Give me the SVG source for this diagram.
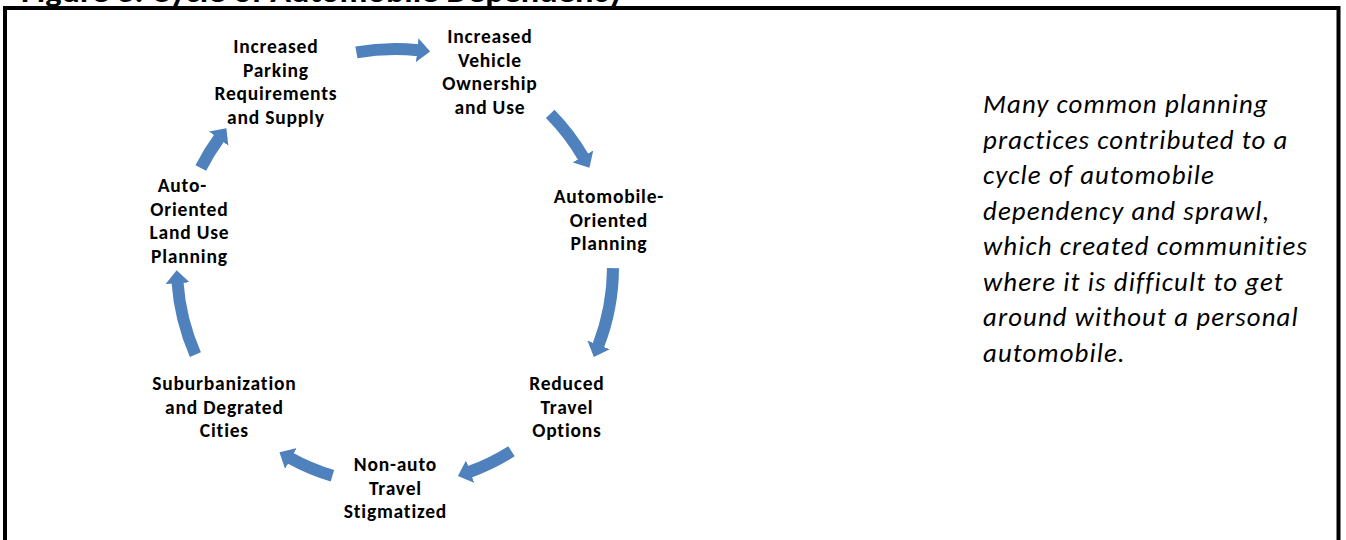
<svg xmlns="http://www.w3.org/2000/svg" width="1346" height="540" viewBox="0 0 1346 540">
  <defs>
    <style>
      .title{font-family:Carlito,Lato,"Liberation Sans",sans-serif;font-weight:bold;font-size:32px;fill:#000}
      .lbl{font-family:Carlito,Lato,"Liberation Sans",sans-serif;font-weight:bold;font-size:19.5px;letter-spacing:0.8px;fill:#000;text-anchor:middle}
      .note{font-family:Carlito,Lato,"Liberation Sans",sans-serif;font-style:italic;font-size:26.8px;letter-spacing:1.1px;fill:#000}
      .arc{fill:none;stroke:#4F81BD;stroke-width:12;marker-end:url(#head)}
    </style>
    <marker id="head" markerUnits="userSpaceOnUse" viewBox="0 -12 13 24" refX="1" refY="0" markerWidth="13" markerHeight="24" orient="auto">
      <path d="M0,-12 L13,0 L0,12 Z" fill="#4F81BD"/>
    </marker>
  </defs>
  <rect width="1346" height="540" fill="#fff"/>

  <!-- caption line above the frame -->
  <text class="title" x="21" y="1.5" textLength="603" lengthAdjust="spacingAndGlyphs">Figure 3: Cycle of Automobile Dependency</text>

  <!-- frame -->
  <rect x="5" y="8" width="1333.5" height="600" fill="none" stroke="#000" stroke-width="4"/>

  <!-- cycle arrows, arcs on a circle centred at (395,267), r=218 -->
  <g id="connectors">
    <path class="arc" d="M356.4,52.4 A218,218 0 0 1 418.2,50.2"/>
    <path class="arc" d="M550.2,113.9 A218,218 0 0 1 583.4,157.3"/>
    <path class="arc" d="M613,268.1 A218,218 0 0 1 598.2,345.8"/>
    <path class="arc" d="M511.5,451.3 A218,218 0 0 1 469.2,472"/>
    <path class="arc" d="M332.4,475.8 A218,218 0 0 1 290,458"/>
    <path class="arc" d="M195.4,354.6 A218,218 0 0 1 177.5,282.2"/>
    <path class="arc" d="M200.8,168 A218,218 0 0 1 219.3,137.9"/>
  </g>

  <g id="node-parking">
    <text class="lbl" x="275.9" y="53">Increased</text>
    <text class="lbl" x="275.9" y="76.5">Parking</text>
    <text class="lbl" x="275.9" y="100">Requirements</text>
    <text class="lbl" x="275.9" y="123.5">and Supply</text>
  </g>
  <g id="node-ownership">
    <text class="lbl" x="489.9" y="43.3">Increased</text>
    <text class="lbl" x="489.9" y="66.8">Vehicle</text>
    <text class="lbl" x="489.9" y="90.2">Ownership</text>
    <text class="lbl" x="489.9" y="113.7">and Use</text>
  </g>
  <g id="node-auto-planning">
    <text class="lbl" x="608.9" y="203">Automobile-</text>
    <text class="lbl" x="608.9" y="226.5">Oriented</text>
    <text class="lbl" x="608.9" y="250">Planning</text>
  </g>
  <g id="node-reduced-options">
    <text class="lbl" x="566.9" y="390">Reduced</text>
    <text class="lbl" x="566.9" y="413.5">Travel</text>
    <text class="lbl" x="566.9" y="437">Options</text>
  </g>
  <g id="node-stigmatized">
    <text class="lbl" x="395.4" y="471">Non-auto</text>
    <text class="lbl" x="395.4" y="494.5">Travel</text>
    <text class="lbl" x="395.4" y="518">Stigmatized</text>
  </g>
  <g id="node-suburbanization">
    <text class="lbl" x="224.4" y="390">Suburbanization</text>
    <text class="lbl" x="224.4" y="413.5">and Degrated</text>
    <text class="lbl" x="224.4" y="437">Cities</text>
  </g>
  <g id="node-land-use">
    <text class="lbl" x="182.4" y="192">Auto-</text>
    <text class="lbl" x="189.4" y="215.5">Oriented</text>
    <text class="lbl" x="189.4" y="239">Land Use</text>
    <text class="lbl" x="189.4" y="262.5">Planning</text>
  </g>

  <g id="note">
    <text class="note" x="983" y="113">Many common planning</text>
    <text class="note" x="983" y="148.5">practices contributed to a</text>
    <text class="note" x="983" y="184">cycle of automobile</text>
    <text class="note" x="983" y="219.5">dependency and sprawl,</text>
    <text class="note" x="983" y="255">which created communities</text>
    <text class="note" x="983" y="290.5">where it is difficult to get</text>
    <text class="note" x="983" y="326">around without a personal</text>
    <text class="note" x="983" y="361.5">automobile.</text>
  </g>
</svg>
